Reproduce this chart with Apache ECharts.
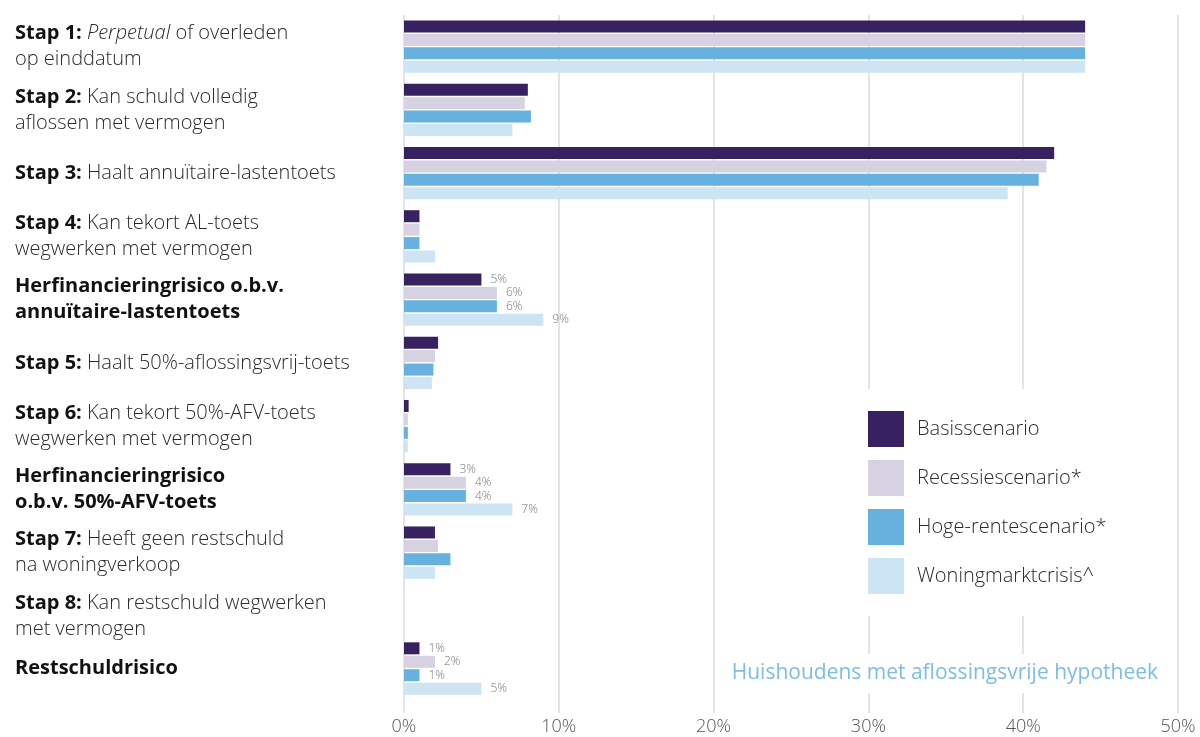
<!DOCTYPE html>
<html>
<head>
    <meta charset="UTF-8">
    <title>Aflossingsvrije hypotheek</title>
    <script src="https://cdn.jsdelivr.net/npm/echarts@6/dist/echarts.min.js"></script>
    <style>
        html, body { margin: 0; padding: 0; background: #fff; }
        #chart { width: 1200px; height: 737px; }
    </style>
</head>
<body>
<div id="chart"></div>
<script>
    // categorieën (van boven naar beneden)
    var categories = [
        'Stap 1: Perpetual of overleden\nop einddatum',
        'Stap 2: Kan schuld volledig\naflossen met vermogen',
        'Stap 3: Haalt annuïtaire-lastentoets',
        'Stap 4: Kan tekort AL-toets\nwegwerken met vermogen',
        'Herfinancieringrisico o.b.v.\nannuïtaire-lastentoets',
        'Stap 5: Haalt 50%-aflossingsvrij-toets',
        'Stap 6: Kan tekort 50%-AFV-toets\nwegwerken met vermogen',
        'Herfinancieringrisico\no.b.v. 50%-AFV-toets',
        'Stap 7: Heeft geen restschuld\nna woningverkoop',
        'Stap 8: Kan restschuld wegwerken\nmet vermogen',
        'Restschuldrisico'
    ];

    var seriesNames = ['Basisscenario', 'Recessiescenario*', 'Hoge-rentescenario*', 'Woningmarktcrisis^'];

    // waarden in %
    var basis     = [44, 8.0, 42.0, 1.0, 5, 2.2, 0.3, 3, 2.0, 0, 1];
    var recessie  = [44, 7.8, 41.5, 1.0, 6, 2.0, 0.25, 4, 2.2, 0, 2];
    var hogeRente = [44, 8.2, 41.0, 1.0, 6, 1.9, 0.25, 4, 3.0, 0, 1];
    var woning    = [44, 7.0, 39.0, 2.0, 9, 1.8, 0.25, 7, 2.0, 0, 5];

    var xTicks = [0, 10, 20, 30, 40, 50];

    // rijen met een waardelabel
    var labeledRows = [4, 7, 10];

    // de laatste rij staat in het origineel dichter op de vorige -> eigen grid
    var SPLIT = 10;

    var colors = ['#372161', '#d6d2e1', '#67b1de', '#cde4f4'];
    var FONT = '"Open Sans", Lato, sans-serif';
    var GRID_LINE = '#e4e2ea';

    function formatCategory(value) {
        if (value.indexOf('Stap') === 0) {
            var idx = value.indexOf(':') + 1;
            var rest = value.substring(idx);
            var out = '{b|' + value.substring(0, idx) + '}';
            if (rest.indexOf('Perpetual') >= 0) {
                var parts = rest.split('Perpetual');
                out += '{r|' + parts[0] + '}{i|Perpetual}{r|' + parts[1] + '}';
            } else {
                out += '{r|' + rest + '}';
            }
            return out;
        }
        return '{b|' + value + '}';
    }

    var labelRich = {
        b: { fontSize: 20, fontWeight: 'bold', color: '#111', fontFamily: FONT, lineHeight: 26 },
        r: { fontSize: 20, fontWeight: 300, color: '#2a2a2a', fontFamily: FONT, lineHeight: 26 },
        i: { fontSize: 20, fontWeight: 300, fontStyle: 'italic', color: '#2a2a2a', fontFamily: FONT, lineHeight: 26 }
    };

    function makeXAxis(gridIndex, withLabels) {
        return {
            type: 'value',
            gridIndex: gridIndex,
            min: xTicks[0],
            max: xTicks[xTicks.length - 1],
            interval: 10,
            axisLine: { show: false },
            axisTick: { show: withLabels, length: 13, lineStyle: { color: GRID_LINE, width: 2 } },
            splitLine: { show: true, lineStyle: { color: GRID_LINE, width: 2 } },
            axisLabel: {
                show: withLabels,
                formatter: '{value}%',
                color: '#555',
                fontSize: 18,
                fontWeight: 300,
                fontFamily: FONT,
                margin: 18
            }
        };
    }

    function makeYAxis(gridIndex, cats) {
        return {
            type: 'category',
            gridIndex: gridIndex,
            inverse: true,
            data: cats,
            axisLine: { show: false },
            axisTick: { show: false },
            axisLabel: {
                align: 'left',
                margin: 389,
                formatter: formatCategory,
                rich: labelRich
            }
        };
    }

    var myChart = echarts.init(document.getElementById('chart'));

    var allData = [basis, recessie, hogeRente, woning];
    var series = [];
    [0, 1].forEach(function (g) {
        allData.forEach(function (d, k) {
            var offset = g === 0 ? 0 : SPLIT;
            series.push({
                name: seriesNames[k],
                type: 'bar',
                xAxisIndex: g,
                yAxisIndex: g,
                data: g === 0 ? d.slice(0, SPLIT) : d.slice(SPLIT),
                barWidth: 12,
                barGap: '12%',
                itemStyle: { color: colors[k] },
                label: {
                    show: true,
                    position: 'right',
                    distance: 9,
                    color: '#777',
                    fontSize: 12,
                    fontWeight: 300,
                    fontFamily: FONT,
                    formatter: function (p) {
                        return labeledRows.indexOf(p.dataIndex + offset) >= 0 ? p.value + '%' : '';
                    }
                },
                silent: true
            });
        });
    });

    var option = {
        backgroundColor: '#fff',
        animation: false,
        color: colors,
        title: {
            text: 'Huishoudens met aflossingsvrije hypotheek',
            right: 34,
            top: 654,
            padding: [9, 8],
            backgroundColor: '#fff',
            textStyle: {
                color: '#7dbde6',
                fontSize: 21,
                fontWeight: 'normal',
                fontFamily: FONT
            }
        },
        legend: {
            orient: 'vertical',
            left: 858,
            top: 389,
            padding: [22, 30, 22, 10],
            backgroundColor: '#fff',
            icon: 'rect',
            itemWidth: 36,
            itemHeight: 36,
            itemGap: 13,
            data: seriesNames,
            textStyle: {
                fontSize: 20,
                color: '#2a2a2a',
                fontWeight: 300,
                fontFamily: FONT,
                padding: [0, 0, 0, 8]
            }
        },
        grid: [
            { left: 404, right: 22, top: 15, height: 632.5 },
            { left: 404, right: 22, top: 637, height: 63 }
        ],
        xAxis: [makeXAxis(0, false), makeXAxis(1, true)],
        yAxis: [makeYAxis(0, categories.slice(0, SPLIT)), makeYAxis(1, categories.slice(SPLIT))],
        series: series
    };
    myChart.setOption(option);
</script>
</body>
</html>
